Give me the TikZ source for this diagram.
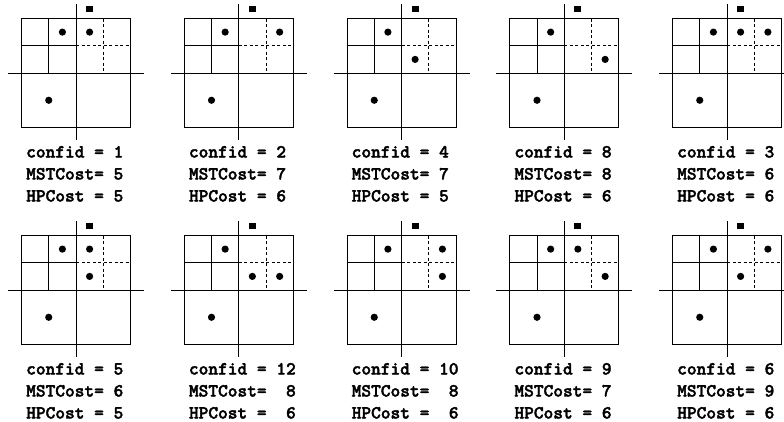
\documentclass[tikz,border=0pt]{standalone}
\usepackage{fontspec}
\newfontfamily\costfont{lmmonolt10-bold.otf}[FakeBold=2]
\usepackage{tikz}
\tikzset{
  cell/.style={line width=1pt},
  quarter/.style={line width=0.7pt, dash pattern=on 3pt off 2.5pt},
  costlabel/.style={anchor=base west, inner sep=0pt,
    font=\costfont\fontsize{18.5}{22}\selectfont},
}

\begin{document}
\begin{tikzpicture}[x=1pt, y=-1pt]
  \useasboundingbox (0,0) rectangle (784,421);
  % Panels: centre x / centre y / confid / MSTCost / HPCost
  \foreach \cx/\cy/\cid/\mst/\hp [count=\i] in {
      76/73/1/5/5, 238.75/73/2/7/6, 401.5/73/4/7/5, 564.25/73/8/8/6, 727/73/3/6/6,
      76/290/5/6/5, 238.75/290/12/~8/~6, 401.5/290/10/~8/~6, 564.25/290/9/7/6, 727/290/6/9/6}
  {
    \begin{scope}[shift={(\cx,\cy)}]
      % Box and axes
      \draw [cell] (-54.5,-54.5) rectangle (54.5,54.5);
      \draw [cell] (0,-69) -- (0,67);
      \draw [cell] (-68,0) -- (68,0);
      % Split quadrant
      \draw [cell] (-27.25,-54.5) -- (-27.25,0);
      \draw [cell] (-54.5,-27.25) -- (0,-27.25);
      % Dashed quadrant
      \draw [quarter] (27.25,-54.5) -- (27.25,0);
      \draw [quarter] (0,-27.25) -- (54.5,-27.25);
      % Marker and fixed points
      \fill (13.6,-64) +(-3.4,-3.4) rectangle +(3.4,3.4);
      \fill (-13.6,-40.9) circle (3.6pt);
      \fill (-27.25,27.25) circle (3.6pt);
      % Points given by confid
      \pgfmathtruncatemacro\bitA{mod(\cid,2)}
      \pgfmathtruncatemacro\bitB{mod(floor(\cid/2),2)}
      \pgfmathtruncatemacro\bitC{mod(floor(\cid/4),2)}
      \pgfmathtruncatemacro\bitD{mod(floor(\cid/8),2)}
      \ifnum\bitA=1 \fill (13.6,-40.9) circle (3.6pt); \fi
      \ifnum\bitB=1 \fill (40.9,-40.9) circle (3.6pt); \fi
      \ifnum\bitC=1 \fill (13.6,-13.6) circle (3.6pt); \fi
      \ifnum\bitD=1 \fill (40.9,-13.6) circle (3.6pt); \fi
      % Labels
      \node [costlabel] (cid\i) at (-50,84.5) {confid = \cid};
      \node [costlabel] (mst\i) at (-50,106.5) {MSTCost= \mst};
      \node [costlabel] (hp\i) at (-50,128.5) {HPCost = \hp};
    \end{scope}
  }
\end{tikzpicture}
\end{document}
